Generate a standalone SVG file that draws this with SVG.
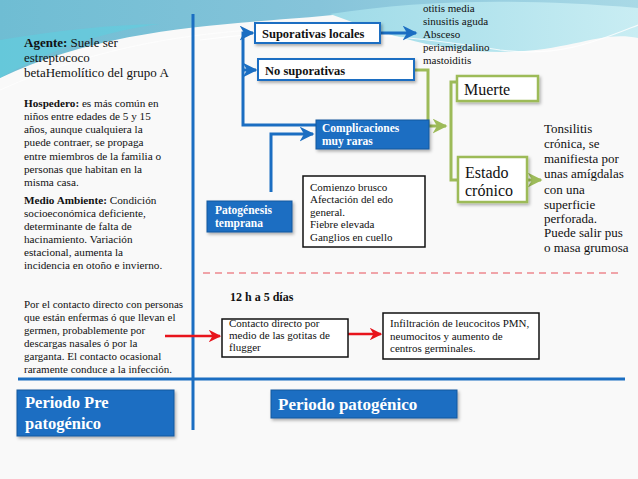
<svg xmlns="http://www.w3.org/2000/svg" width="638" height="479" viewBox="0 0 638 479">
<defs>
<style>
.t{font-family:"Liberation Serif","DejaVu Serif",serif;fill:#111}
.b{font-weight:bold}
.w{fill:#fff;font-weight:bold}
.bl{fill:#1b6ec2;stroke:#16599e;stroke-width:1}
.wb{fill:#fff;stroke:#1b6ec2;stroke-width:2}
.gb{fill:#fff;stroke:#9dbb59;stroke-width:2.5}
.kb{fill:#fff;stroke:#111;stroke-width:1.5}
.cb{fill:none;stroke:#1b6ec2;stroke-width:3}
.cg{fill:none;stroke:#9dbb59;stroke-width:3}
.cr{fill:none;stroke:#e8141c;stroke-width:2.5}
</style>
<marker id="ab" viewBox="0 0 10 10" refX="9" refY="5" markerWidth="5" markerHeight="5" orient="auto" markerUnits="strokeWidth"><path d="M0,0 L10,5 L0,10 L3,5 Z" fill="#1b6ec2"/></marker>
<marker id="ag" viewBox="0 0 10 10" refX="9" refY="5" markerWidth="5" markerHeight="5" orient="auto" markerUnits="strokeWidth"><path d="M0,0 L10,5 L0,10 L3,5 Z" fill="#9dbb59"/></marker>
<marker id="ar" viewBox="0 0 10 10" refX="9" refY="5" markerWidth="5" markerHeight="5" orient="auto" markerUnits="strokeWidth"><path d="M0,0 L10,5 L0,10 L3,5 Z" fill="#e8141c"/></marker>
<filter id="sh" x="-10%" y="-20%" width="130%" height="150%"><feDropShadow dx="1.5" dy="2" stdDeviation="1.5" flood-color="#000" flood-opacity="0.3"/></filter>
<linearGradient id="g1" x1="0" y1="0" x2="1" y2="0"><stop offset="0" stop-color="#6fbdd3"/><stop offset="0.5" stop-color="#86c4da"/><stop offset="1" stop-color="#a9d9e6"/></linearGradient>
<linearGradient id="g2" x1="0" y1="0" x2="1" y2="0"><stop offset="0" stop-color="#9fdbe8"/><stop offset="1" stop-color="#c9edf3"/></linearGradient>
</defs>
<rect width="638" height="479" fill="#f9f9f9"/>
<g id="background">
<path d="M0,0 H638 V10 C560,5 450,0 360,12 C260,25 120,20 0,78 Z" fill="url(#g1)"/>
<path d="M0,40 C60,30 110,25 160,24 C100,32 50,50 0,78 Z" fill="#5fcfe0" opacity="0.6"/>
<path d="M330,14 C420,0 520,-2 638,8 V38 C600,30 570,52 500,52 C440,52 390,36 330,14 Z" fill="url(#g2)"/>
<path d="M200,40 C300,26 400,34 500,50 C560,58 600,40 638,25" fill="none" stroke="#ffffff" stroke-width="1.2" opacity="0.8"/>
<path d="M0,90 C100,45 200,30 300,28" fill="none" stroke="#ffffff" stroke-width="1" opacity="0.7"/>
</g>
<g id="axes">
<line x1="193" y1="14" x2="193" y2="430" stroke="#1b6ec2" stroke-width="3"/>
<line x1="18" y1="379" x2="625" y2="379" stroke="#1b6ec2" stroke-width="3"/>
<line x1="203" y1="273" x2="623" y2="273" stroke="#e8505a" stroke-width="1.2" stroke-dasharray="7 5"/>
</g>
<g id="connectors">
<polyline class="cb" points="316,125 243,125 243,33 253,33" marker-end="url(#ab)"/>
<polyline class="cb" points="243,70 256,70" marker-end="url(#ab)"/>
<polyline class="cb" points="271,192 271,134 313,134" marker-end="url(#ab)"/>
<polyline class="cb" points="380,33 416,33" marker-end="url(#ab)"/>
<polyline class="cg" points="414,70 428,70 428,126 446,126" marker-end="url(#ag)"/>
<polyline class="cg" points="458,82 451,82 451,180 458,180"/>
<polyline class="cg" points="527,180 541,180" marker-end="url(#ag)"/>
<polyline class="cr" points="165,336 220,336" marker-end="url(#ar)"/>
<polyline class="cr" points="348,334 381,334" marker-end="url(#ar)"/>
</g>
<g id="agente" font-size="13">
<text class="t" x="24" y="47"><tspan class="b">Agente:</tspan> Suele ser</text>
<text class="t" x="24" y="62">estreptococo</text>
<text class="t" x="24" y="77">betaHemolítico del grupo A</text>
</g>
<g id="hospedero" font-size="11.2">
<text class="t" x="24" y="107"><tspan class="b">Hospedero:</tspan> es más común en</text>
<text class="t" x="24" y="120">niños entre edades de 5 y 15</text>
<text class="t" x="24" y="133">años, aunque cualquiera la</text>
<text class="t" x="24" y="146">puede contraer, se propaga</text>
<text class="t" x="24" y="160">entre miembros de la familia o</text>
<text class="t" x="24" y="173">personas que habitan en la</text>
<text class="t" x="24" y="186">misma casa.</text>
</g>
<g id="medio" font-size="11.2">
<text class="t" x="24" y="204"><tspan class="b">Medio Ambiente:</tspan>   Condición</text>
<text class="t" x="24" y="217">socioeconómica deficiente,</text>
<text class="t" x="24" y="230">determinante de falta de</text>
<text class="t" x="24" y="243">hacinamiento. Variación</text>
<text class="t" x="24" y="256">estacional, aumenta la</text>
<text class="t" x="24" y="269">incidencia en otoño e invierno.</text>
</g>
<g id="contagio" font-size="11">
<text class="t" x="24" y="308">Por el contacto directo con personas</text>
<text class="t" x="24" y="321">que están enfermas ó que llevan el</text>
<text class="t" x="24" y="334">germen, probablemente por</text>
<text class="t" x="24" y="347">descargas nasales ó por la</text>
<text class="t" x="24" y="360">garganta.  El contacto ocasional</text>
<text class="t" x="24" y="373">raramente conduce a la infección.</text>
</g>
<g id="suporativas-locales">
<rect class="wb" x="255" y="23" width="125" height="20" filter="url(#sh)"/>
<text class="t b" x="262" y="37.5" font-size="12.5">Suporativas locales</text>
</g>
<g id="lista-supurativas" font-size="11">
<text class="t" x="423" y="12">otitis media</text>
<text class="t" x="423" y="25">sinusitis aguda</text>
<text class="t" x="423" y="38">Absceso</text>
<text class="t" x="423" y="51">periamigdalino</text>
<text class="t" x="423" y="64">mastoiditis</text>
</g>
<g id="no-suporativas">
<rect class="wb" x="258" y="59" width="156" height="21" filter="url(#sh)"/>
<text class="t b" x="265" y="75" font-size="12.5">No suporativas</text>
</g>
<g id="complicaciones">
<rect class="bl" x="316" y="120" width="113" height="29" filter="url(#sh)" stroke="#fff" stroke-width="1.5"/>
<text class="t w" x="322" y="132" font-size="11.5">Complicaciones</text>
<text class="t w" x="322" y="145" font-size="11.5">muy raras</text>
</g>
<g id="patogenesis">
<rect class="bl" x="207" y="201" width="85" height="31" filter="url(#sh)"/>
<text class="t w" x="215" y="214" font-size="11.5">Patogénesis</text>
<text class="t w" x="215" y="227" font-size="11.5">temprana</text>
</g>
<g id="sintomas" font-size="11">
<rect class="kb" x="303" y="176" width="122" height="71"/>
<text class="t" x="310" y="191">Comienzo brusco</text>
<text class="t" x="310" y="203">Afectación del edo</text>
<text class="t" x="310" y="216">general.</text>
<text class="t" x="310" y="228">Fiebre elevada</text>
<text class="t" x="310" y="241">Ganglios en cuello</text>
</g>
<g id="muerte">
<rect class="gb" x="457" y="76" width="81" height="25" filter="url(#sh)"/>
<text class="t" x="464" y="95" font-size="16">Muerte</text>
</g>
<g id="estado-cronico">
<rect class="gb" x="458" y="157" width="69" height="45" filter="url(#sh)"/>
<text class="t" x="465" y="178" font-size="16">Estado</text>
<text class="t" x="465" y="196" font-size="16">crónico</text>
</g>
<g id="tonsilitis" font-size="13">
<text class="t" x="544" y="133">Tonsilitis</text>
<text class="t" x="544" y="148">crónica, se</text>
<text class="t" x="544" y="163">manifiesta por</text>
<text class="t" x="544" y="178">unas amígdalas</text>
<text class="t" x="544" y="194">con una</text>
<text class="t" x="544" y="209">superficie</text>
<text class="t" x="544" y="223">perforada.</text>
<text class="t" x="544" y="237">Puede salir pus</text>
<text class="t" x="544" y="252">o masa grumosa</text>
</g>
<g id="incubacion">
<text class="t b" x="230" y="301" font-size="12">12 h a 5 días</text>
</g>
<g id="contacto" font-size="11">
<rect class="kb" x="222" y="319" width="126" height="38"/>
<text class="t" x="229" y="327">Contacto directo por</text>
<text class="t" x="229" y="339">medio de las gotitas de</text>
<text class="t" x="229" y="351">flugger</text>
</g>
<g id="infiltracion" font-size="11">
<rect class="kb" x="383" y="313" width="156" height="46"/>
<text class="t" x="390" y="327">Infiltración de leucocitos PMN,</text>
<text class="t" x="390" y="340">neumocitos y aumento de</text>
<text class="t" x="390" y="352">centros germinales.</text>
</g>
<g id="periodo-pre">
<rect class="bl" x="17" y="390" width="157" height="46" filter="url(#sh)"/>
<text class="t w" x="25" y="408" font-size="16.5">Periodo Pre</text>
<text class="t w" x="25" y="429" font-size="16.5">patogénico</text>
</g>
<g id="periodo-patogenico">
<rect class="bl" x="271" y="390" width="186" height="28" filter="url(#sh)"/>
<text class="t w" x="278" y="410" font-size="17">Periodo patogénico</text>
</g>
</svg>
